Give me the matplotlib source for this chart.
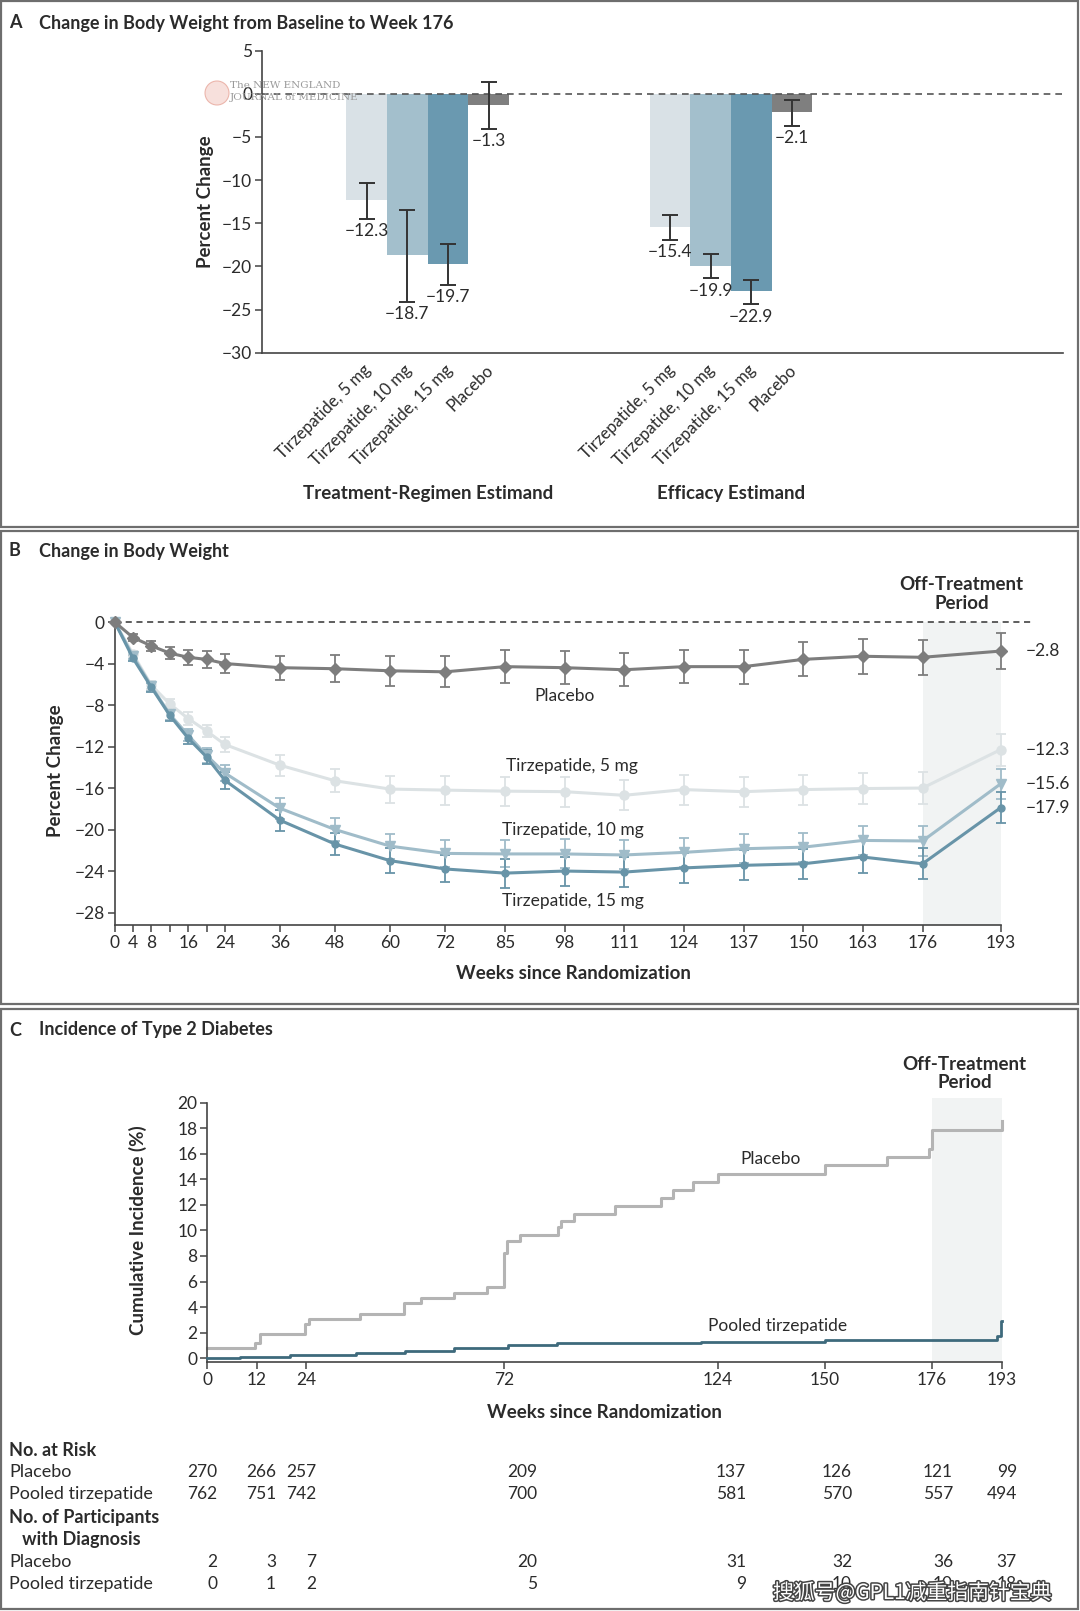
import matplotlib
matplotlib.use("Agg")
import matplotlib.pyplot as plt
import matplotlib.patheffects as pe
from matplotlib.patches import Rectangle, Ellipse

plt.rcParams['font.family'] = ['Lato', 'DejaVu Sans']
plt.rcParams['axes.unicode_minus'] = True

# ---- datos panel A ----
bar_labels = ['Tirzepatide, 5 mg', 'Tirzepatide, 10 mg', 'Tirzepatide, 15 mg', 'Placebo']
group_names = ['Treatment-Regimen Estimand', 'Efficacy Estimand']
regimen_mean = [-12.3, -18.7, -19.7, -1.3]
regimen_lo = [-14.5, -24.15, -22.15, -4.1]
regimen_hi = [-10.3, -13.5, -17.4, 1.4]
efficacy_mean = [-15.4, -19.9, -22.9, -2.1]
efficacy_lo = [-16.9, -21.4, -24.4, -3.7]
efficacy_hi = [-14.0, -18.6, -21.6, -0.7]

# ---- datos panel B ----
weeks_b = [0, 4, 8, 12, 16, 20, 24, 36, 48, 60, 72, 85, 98, 111, 124, 137, 150, 163, 176, 193]
week_labels_b = ['0', '4', '8', '', '16', '', '24', '36', '48', '60', '72', '85', '98',
                 '111', '124', '137', '150', '163', '176', '193']
placebo_b = [0, -1.5, -2.3, -3.0, -3.4, -3.6, -4.0, -4.4, -4.5, -4.7, -4.8, -4.3, -4.4,
             -4.6, -4.3, -4.3, -3.6, -3.3, -3.4, -2.8]
placebo_b_err = [0, 0.3, 0.45, 0.6, 0.75, 0.8, 0.9, 1.15, 1.3, 1.45, 1.5, 1.6, 1.6,
                 1.6, 1.6, 1.65, 1.65, 1.7, 1.7, 1.7]
tzp5_b = [0, -3.1, -6.1, -7.9, -9.3, -10.5, -11.8, -13.8, -15.3, -16.1, -16.2, -16.3, -16.35,
          -16.7, -16.15, -16.35, -16.15, -16.05, -16.0, -12.3]
tzp5_b_err = [0, 0.3, 0.4, 0.5, 0.6, 0.6, 0.7, 1.0, 1.1, 1.3, 1.4, 1.4, 1.45,
              1.45, 1.45, 1.45, 1.45, 1.5, 1.55, 1.55]
tzp10_b = [0, -3.3, -6.2, -8.9, -10.9, -12.85, -14.55, -17.95, -20.0, -21.6, -22.3, -22.35, -22.35,
           -22.45, -22.2, -21.85, -21.7, -21.05, -21.1, -15.6]
tzp10_b_err = [0, 0.3, 0.4, 0.5, 0.6, 0.7, 0.8, 1.0, 1.1, 1.2, 1.3, 1.3, 1.4,
               1.4, 1.4, 1.4, 1.4, 1.4, 1.45, 1.45]
tzp15_b = [0, -3.5, -6.3, -9.0, -11.2, -13.0, -15.25, -19.1, -21.4, -23.0, -23.8, -24.2, -24.0,
           -24.1, -23.7, -23.45, -23.3, -22.65, -23.3, -17.9]
tzp15_b_err = [0, 0.3, 0.4, 0.5, 0.6, 0.7, 0.8, 1.0, 1.1, 1.2, 1.3, 1.4, 1.4,
               1.45, 1.45, 1.45, 1.45, 1.5, 1.5, 1.5]

# ---- datos panel C ----
placebo_c_t = [0, 11.6, 12.8, 23.8, 24.6, 37.0, 47.8, 51.8, 59.9, 67.9, 72.0, 72.8, 76.0,
               85.1, 85.9, 89.0, 99.0, 110.1, 113.1, 118.0, 124.1, 150.1, 165.1, 175.3,
               176.1, 193.0]
placebo_c_y = [0.76, 1.15, 1.88, 2.66, 3.05, 3.44, 4.28, 4.7, 5.14, 5.58, 8.27, 9.15, 9.65,
               10.25, 10.74, 11.32, 11.89, 12.57, 13.2, 13.8, 14.4, 15.1, 15.78, 16.4,
               17.84, 18.6]
tzp_c_t = [0, 8, 20, 36, 48, 60, 73, 85, 120, 150, 191.8, 192.7, 193.0]
tzp_c_y = [0, 0.13, 0.26, 0.4, 0.53, 0.78, 1.0, 1.15, 1.28, 1.42, 1.75, 2.9, 2.9]
weeks_c = [0, 12, 24, 72, 124, 150, 176, 193]
risk_placebo = [270, 266, 257, 209, 137, 126, 121, 99]
risk_tzp = [762, 751, 742, 700, 581, 570, 557, 494]
diag_placebo = [2, 3, 7, 20, 31, 32, 36, 37]
diag_tzp = [0, 1, 2, 5, 9, 10, 10, 18]

# colores
c_5 = '#d9e1e6'
c_10 = '#a3bfcc'
c_15 = '#6a99b0'
c_pl = '#7f7f7f'
line_5 = '#dce2e4'
line_10 = '#a0bcc9'
line_15 = '#6894a8'
line_pl = '#7d7d7d'
txt = '#2b2b2b'
shade = '#f1f3f3'

W, H = 1080, 1611
fig = plt.figure(figsize=(W / 100, H / 100), dpi=100)


def fx(px):
    return px / W


def fy(py):
    return 1 - py / H


def menos(v):
    # signo menos tipografico
    return ('\u2212%.1f' % abs(v)) if v < 0 else '%.1f' % v


# marcos de los paneles
for top, bot in [(1, 527), (531, 1004), (1009, 1609)]:
    fig.add_artist(Rectangle((fx(1), fy(bot)), fx(1077), (bot - top) / H,
                             transform=fig.transFigure, fill=False,
                             edgecolor='#6e6e6e', linewidth=1.6))

# titulos
for letter, title, py in [('A', 'Change in Body Weight from Baseline to Week 176', 23),
                          ('B', 'Change in Body Weight', 551),
                          ('C', 'Incidence of Type 2 Diabetes', 1030)]:
    fig.text(fx(9), fy(py), letter, fontsize=13, fontweight='bold', color=txt, va='center')
    fig.text(fx(39), fy(py), title, fontsize=13, fontweight='bold', color=txt, va='center')

tick_fs = 12.5
lab_fs = 13.5

# ================= Panel A =================
axA = fig.add_axes([fx(262), fy(352.7), fx(1063 - 262), (352.7 - 50.7) / H])
bar_colors = [c_5, c_10, c_15, c_pl]
xs1 = [0, 1, 2, 3]
xs2 = [7.47, 8.47, 9.47, 10.47]
for xs, mean, lo, hi in [(xs1, regimen_mean, regimen_lo, regimen_hi),
                         (xs2, efficacy_mean, efficacy_lo, efficacy_hi)]:
    axA.bar(xs, mean, width=1.0, color=bar_colors, zorder=1)
    for x, m, l, h in zip(xs, mean, lo, hi):
        axA.errorbar(x, (l + h) / 2, yerr=(h - l) / 2, color='#333333', lw=1.4,
                     capsize=6, capthick=1.4, zorder=3)
        axA.annotate(menos(m), (x, l), xytext=(0, -3), textcoords='offset points',
                     ha='center', va='top', fontsize=tick_fs, color=txt)
    for x, lab in zip(xs, bar_labels):
        axA.text(x + 0.05, -31.7, lab, rotation=45, rotation_mode='anchor',
                 ha='right', va='center', fontsize=12, color=txt, clip_on=False)
axA.axhline(0, color='#555555', lw=1.2, ls=(0, (4, 3)), zorder=2)
axA.set_xlim(-2.58, 17.15)
axA.set_ylim(-30, 5)
axA.set_yticks([5, 0, -5, -10, -15, -20, -25, -30])
axA.set_xticks([])
axA.tick_params(axis='y', length=5, width=1.1, color='#444444', labelsize=tick_fs,
                labelcolor=txt, pad=2)
for s in ['top', 'right']:
    axA.spines[s].set_visible(False)
for s in ['left', 'bottom']:
    axA.spines[s].set_color('#444444')
    axA.spines[s].set_linewidth(1.2)
axA.set_ylabel('Percent Change', fontsize=lab_fs, fontweight='bold', color=txt, labelpad=6)
axA.text(1.5, -46.3, group_names[0], ha='center', va='center', fontsize=lab_fs,
         fontweight='bold', color=txt, clip_on=False)
axA.text(8.97, -46.3, group_names[1], ha='center', va='center', fontsize=lab_fs,
         fontweight='bold', color=txt, clip_on=False)

# marca de agua NEJM
fig.add_artist(Ellipse((fx(217), fy(93)), fx(24), 24 / H, transform=fig.transFigure,
                       facecolor='#f6d9d4', edgecolor='#e8a89c', lw=0.8, alpha=0.8))
fig.text(fx(230), fy(86), 'The NEW ENGLAND', fontsize=7.5, family='DejaVu Serif',
         color='#9a9a9a', va='center')
fig.text(fx(230), fy(98), 'JOURNAL of MEDICINE', fontsize=7.5, family='DejaVu Serif',
         color='#9a9a9a', va='center')

# ================= Panel B =================
axB = fig.add_axes([fx(114.7), fy(925), fx(918), (925 - 615.8) / H])
axB.axvspan(176, 193, ymin=0, ymax=29.2 / 29.8, color=shade, zorder=0, lw=0)
axB.axhline(0, color='#333333', lw=1.1, ls=(0, (4, 3)), zorder=1)
series_b = [
    (tzp5_b, tzp5_b_err, line_5, 'o', 6.5),
    (tzp10_b, tzp10_b_err, line_10, 'v', 7),
    (tzp15_b, tzp15_b_err, line_15, 'o', 5),
    (placebo_b, placebo_b_err, line_pl, 'D', 6),
]
for vals, err, col, mk, ms in series_b:
    axB.errorbar(weeks_b, vals, yerr=err, color=col, lw=2.2, marker=mk, ms=ms,
                 elinewidth=1.3, capsize=3.5, capthick=1.3, zorder=3, clip_on=False)
axB.set_xlim(0, 200)
axB.set_ylim(-29.2, 0.6)
axB.spines['bottom'].set_bounds(0, 193)
axB.spines['left'].set_bounds(-29.2, 0)
for s in ['top', 'right']:
    axB.spines[s].set_visible(False)
for s in ['left', 'bottom']:
    axB.spines[s].set_color('#444444')
    axB.spines[s].set_linewidth(1.2)
axB.set_xticks(weeks_b)
axB.set_xticklabels(week_labels_b)
axB.set_yticks([0, -4, -8, -12, -16, -20, -24, -28])
axB.tick_params(length=5, width=1.1, color='#444444', labelsize=tick_fs, labelcolor=txt, pad=2)
axB.set_ylabel('Percent Change', fontsize=lab_fs, fontweight='bold', color=txt, labelpad=8)
axB.set_xlabel('Weeks since Randomization', fontsize=lab_fs, fontweight='bold', color=txt,
               labelpad=10)
axB.text(98, -7.15, 'Placebo', ha='center', va='center', fontsize=tick_fs, color=txt)
axB.text(99.6, -13.9, 'Tirzepatide, 5 mg', ha='center', va='center', fontsize=tick_fs, color=txt)
axB.text(99.8, -20.05, 'Tirzepatide, 10 mg', ha='center', va='center', fontsize=tick_fs, color=txt)
axB.text(99.8, -26.9, 'Tirzepatide, 15 mg', ha='center', va='center', fontsize=tick_fs, color=txt)
for vals in [placebo_b, tzp5_b, tzp10_b, tzp15_b]:
    axB.text(198.5, vals[-1], menos(vals[-1]), ha='left', va='center',
             fontsize=tick_fs, color=txt, clip_on=False)
axB.text(184.5, 2.7, 'Off-Treatment\nPeriod', ha='center', va='center', fontsize=lab_fs,
         fontweight='bold', color=txt, linespacing=1.1, clip_on=False)

# ================= Panel C =================
axC = fig.add_axes([fx(207.3), fy(1362), fx(1002 - 207.3), (1362 - 1097.6) / H])
axC.axvspan(176, 193, color=shade, zorder=0, lw=0)
axC.step(placebo_c_t, placebo_c_y, where='post', color='#b4b4b4', lw=2.2, zorder=2,
         clip_on=False)
axC.step(tzp_c_t, tzp_c_y, where='post', color='#3e6a7c', lw=2.0, zorder=3, clip_on=False)
axC.set_xlim(0, 193)
axC.set_ylim(-0.3, 20.4)
axC.spines['left'].set_bounds(-0.3, 20)
for s in ['top', 'right']:
    axC.spines[s].set_visible(False)
for s in ['left', 'bottom']:
    axC.spines[s].set_color('#444444')
    axC.spines[s].set_linewidth(1.2)
axC.set_xticks(weeks_c)
axC.set_yticks(range(0, 21, 2))
axC.tick_params(length=5, width=1.1, color='#444444', labelsize=tick_fs, labelcolor=txt, pad=2)
axC.set_ylabel('Cumulative Incidence (%)', fontsize=lab_fs, fontweight='bold', color=txt,
               labelpad=22)
axC.set_xlabel('Weeks since Randomization', fontsize=lab_fs, fontweight='bold', color=txt,
               labelpad=12)
axC.text(136.7, 15.6, 'Placebo', ha='center', va='center', fontsize=tick_fs, color=txt)
axC.text(138.4, 2.5, 'Pooled tirzepatide', ha='center', va='center', fontsize=tick_fs, color=txt)
axC.text(183.9, 22.3, 'Off-Treatment\nPeriod', ha='center', va='center', fontsize=lab_fs,
         fontweight='bold', color=txt, linespacing=1.1, clip_on=False)

# tabla de riesgo
col_right = [217, 276, 316, 537, 746, 852, 953, 1017]
rows = [
    ('No. at Risk', None, 1450, True),
    ('Placebo', risk_placebo, 1472, False),
    ('Pooled tirzepatide', risk_tzp, 1494, False),
    ('No. of Participants', None, 1517, True),
    ('   with Diagnosis', None, 1539, True),
    ('Placebo', diag_placebo, 1562, False),
    ('Pooled tirzepatide', diag_tzp, 1584, False),
]
for name, vals, py, bold in rows:
    fig.text(fx(9), fy(py), name, fontsize=13, color=txt, va='center',
             fontweight='bold' if bold else 'normal')
    if vals is not None:
        for px, v in zip(col_right, vals):
            fig.text(fx(px), fy(py), str(v), fontsize=12.5, color=txt, va='center', ha='right')

# marca de agua
fig.text(fx(773), fy(1593), '搜狐号@GPL1减重指南针宝典', fontsize=15, color='white',
         va='center', ha='left', family=['Noto Sans CJK SC', 'DejaVu Sans'],
         path_effects=[pe.withStroke(linewidth=2.2, foreground='#444444')])

fig.savefig('out.png', dpi=100)
